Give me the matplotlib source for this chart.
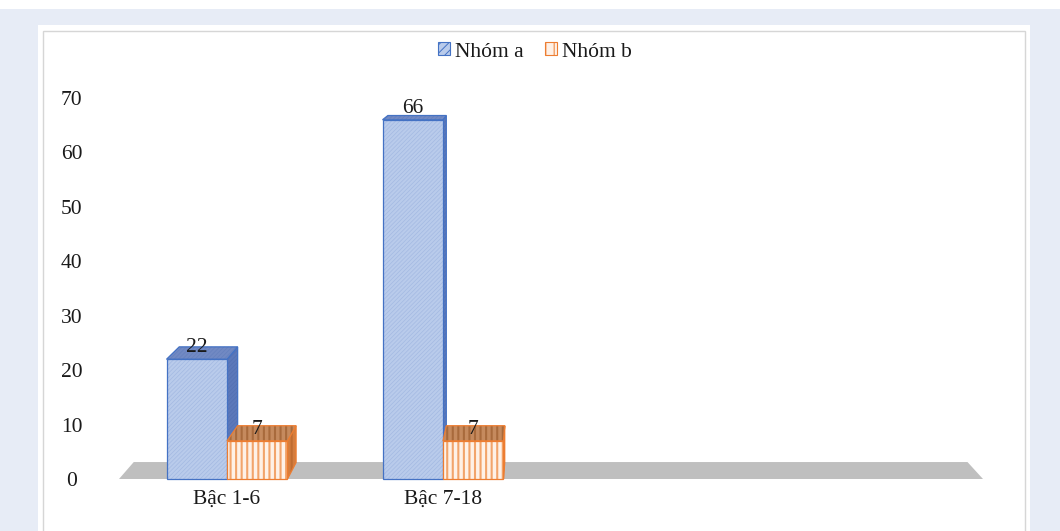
import matplotlib
matplotlib.use("Agg")
import matplotlib.pyplot as plt
from matplotlib.patches import Rectangle, Patch

categories = ["Bậc 1-6", "Bậc 7-18", "", ""]
nhom_a = [22, 66, None, None]
nhom_b = [7, 7, None, None]
series_names = ["Nhóm a", "Nhóm b"]
yticks = [0, 10, 20, 30, 40, 50, 60, 70]

plt.rcParams['font.family'] = ['Liberation Serif', 'DejaVu Serif']
plt.rcParams['hatch.linewidth'] = 0.7

W, H = 1060, 531
fig = plt.figure(figsize=(W / 100, H / 100), dpi=100)
fig.patch.set_facecolor('#E7ECF6')

def fr(x0, y0, x1, y1, **kw):
    fig.patches.append(Rectangle((x0 / W, 1 - y1 / H), (x1 - x0) / W, (y1 - y0) / H,
                                 transform=fig.transFigure, **kw))

fr(0, 0, W, 9, facecolor='white', edgecolor='none', zorder=-3)
fr(38, 25, 1030, H + 5, facecolor='white', edgecolor='none', zorder=-2)
fr(43, 31, 1025, H + 5, facecolor='none', edgecolor='#D6D6D6', linewidth=1.0, zorder=-1)

ax = fig.add_axes([119 / W, 1 - 479 / H, 864 / W, (479 - 98) / H])
ax.set_xlim(-0.5, 3.5)
ax.set_ylim(0, 70)
ax.patch.set_alpha(0)
for s in ax.spines.values():
    s.set_visible(False)

# perspective (vanishing point in data coordinates)
xv, yv = 1.45, 89.0
kb = 0.034
kf = 0.035

def proj(x, y, k):
    return x + k * (xv - x), y + k * (yv - y)

# floor
fx0, fx1 = -0.5, 3.5
b0 = proj(fx0, 0, kf)
b1 = proj(fx1, 0, kf)
ax.fill([fx0, fx1, b1[0], b0[0]], [0, 0, b1[1], b0[1]], color='#BFBFBF', lw=0, zorder=1, clip_on=False)

width = 0.28
styles = {
    0: dict(front='#B9CBEB', fhatch='#A3B9E2', top='#7189C3', thatch='#6580BD',
            side='#5B78BA', shatch='#5370B3', edge='#4472C4', hatch='////////', hlw=0.5),
    1: dict(front='#FEF1E7', fhatch='#F2A46B', top='#C58A5E', thatch='#A86A3C',
            side='#D47D3E', shatch='#BF6C30', edge='#ED7D31', hatch='|||', hlw=1.5),
}

def face(xs, ys, fc, hc, hatch, edge, z, hlw):
    with plt.rc_context({'hatch.linewidth': hlw}):
        p = ax.fill(xs, ys, facecolor=fc, edgecolor=hc, hatch=hatch, lw=0, zorder=z, clip_on=False)
    ax.fill(xs, ys, facecolor='none', edgecolor=edge, lw=0.9, zorder=z + 0.01, clip_on=False)

def box(x0, x1, h, st, z):
    tl = proj(x0, h, kb)
    tr = proj(x1, h, kb)
    br = proj(x1, 0, kb)
    bl = proj(x0, 0, kb)
    a = (st['hatch'], st['edge'])
    if xv > x1:
        face([x1, x1, tr[0], br[0]], [0, h, tr[1], br[1]], st['side'], st['shatch'], *a, z, st['hlw'])
    elif xv < x0:
        face([x0, x0, tl[0], bl[0]], [0, h, tl[1], bl[1]], st['side'], st['shatch'], *a, z, st['hlw'])
    face([x0, x1, tr[0], tl[0]], [h, h, tr[1], tl[1]], st['top'], st['thatch'], *a, z + 0.1, st['hlw'])
    face([x0, x1, x1, x0], [0, 0, h, h], st['front'], st['fhatch'], *a, z + 0.2, st['hlw'])

for i, (va, vb) in enumerate(zip(nhom_a, nhom_b)):
    z = 2 + i
    for j, v in enumerate([va, vb]):
        if v is None:
            continue
        x0 = i - width if j == 0 else i
        x1 = x0 + width
        box(x0, x1, v, styles[j], z + j * 0.4)
        ax.annotate(str(v), xy=(x0 + width / 2, v), xytext=(0, 5), textcoords='offset points',
                    ha='center', va='baseline', fontsize=15.5, color='#1A1A1A', zorder=20,
                    annotation_clip=False)

ax.set_xticks(range(len(categories)))
ax.set_xticklabels(categories, fontsize=15.5, color='#1A1A1A')
ax.set_yticks(yticks)
ax.set_yticklabels([str(t) for t in yticks], fontsize=15.5, color='#1A1A1A', ha='center')
ax.tick_params(axis='x', length=0, pad=8)
ax.tick_params(axis='y', length=0, pad=34)

handles = []
for j in range(2):
    with plt.rc_context({'hatch.linewidth': styles[j]['hlw']}):
        handles.append(Patch(facecolor=styles[j]['front'], edgecolor=styles[j]['fhatch'],
                             hatch='////' if j == 0 else '||', lw=0.8, label=series_names[j]))
leg = fig.legend(handles=handles, loc='center', bbox_to_anchor=(535 / W, 1 - 52 / H), ncol=2, frameon=False,
                 fontsize=15.5, handlelength=0.55, handleheight=0.55, handletextpad=0.25, columnspacing=1.0,
                 labelcolor='#1A1A1A')
for j, hp in enumerate(leg.legend_handles):
    hp.set_edgecolor(styles[j]['edge'])

fig.savefig('out.png', dpi=100, facecolor=fig.get_facecolor())
